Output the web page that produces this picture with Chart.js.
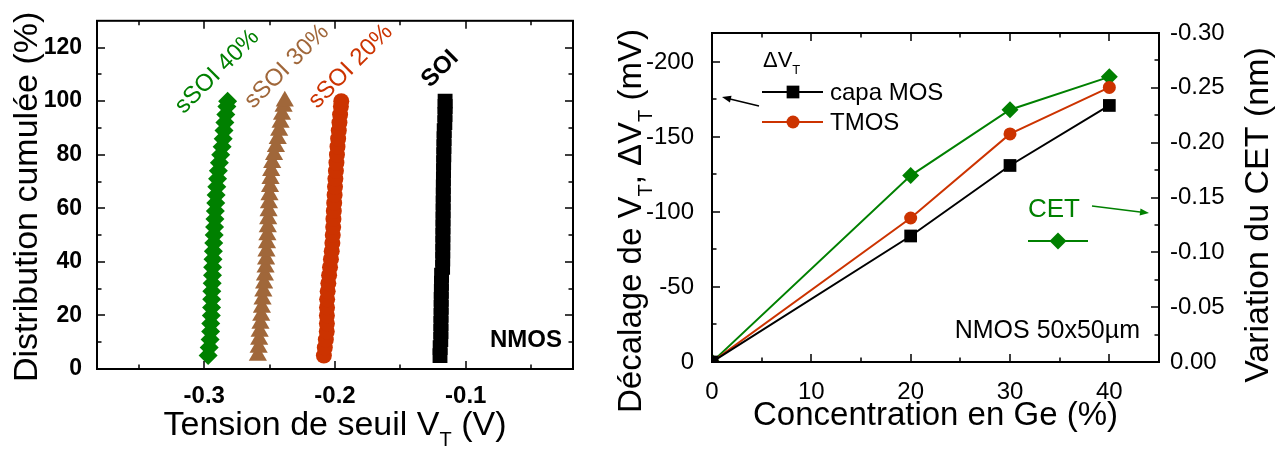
<!DOCTYPE html>
<html>
<head>
<meta charset="utf-8">
<script src="https://cdn.jsdelivr.net/npm/chart.js@4.4.0/dist/chart.umd.min.js"></script>
<style>
  html, body { margin: 0; padding: 0; background: #fff; }
  #wrap { position: relative; width: 1288px; height: 450px; }
  #left { position: absolute; left: 0; top: 0; width: 590px; height: 450px; }
  #right { position: absolute; left: 590px; top: 0; width: 698px; height: 450px; }
</style>
</head>
<body>
<div id="wrap">
  <div id="left"><canvas id="cdfChart"></canvas></div>
  <div id="right"><canvas id="shiftChart"></canvas></div>
</div>
<script>
// ---- left panel : cumulative distribution of VT ----
const cumul = [5, 8, 11, 14, 17, 20, 23, 26, 29, 32, 35, 38, 41, 44, 47, 50, 53,
               56, 59, 62, 65, 68, 71, 74, 77, 80, 83, 86, 89, 92, 95, 98, 100];

const vtSSOI40 = [-0.2970, -0.2962, -0.2955, -0.2951, -0.2950, -0.2946, -0.2944, -0.2943, -0.2942,
                  -0.2939, -0.2937, -0.2936, -0.2933, -0.2930, -0.2927, -0.2924, -0.2921, -0.2918,
                  -0.2915, -0.2912, -0.2909, -0.2904, -0.2898, -0.2892, -0.2884, -0.2874, -0.2863,
                  -0.2855, -0.2849, -0.2842, -0.2835, -0.2827, -0.2821];
const vtSSOI30 = [-0.2590, -0.2584, -0.2580, -0.2576, -0.2570, -0.2564, -0.2559, -0.2554, -0.2548,
                  -0.2542, -0.2536, -0.2531, -0.2527, -0.2524, -0.2520, -0.2517, -0.2514, -0.2511,
                  -0.2508, -0.2505, -0.2501, -0.2497, -0.2493, -0.2488, -0.2480, -0.2466, -0.2452,
                  -0.2438, -0.2427, -0.2416, -0.2405, -0.2393, -0.2384];
const vtSSOI20 = [-0.2085, -0.2078, -0.2070, -0.2063, -0.2062, -0.2062, -0.2061, -0.2060, -0.2056,
                  -0.2051, -0.2045, -0.2038, -0.2031, -0.2025, -0.2020, -0.2017, -0.2014, -0.2012,
                  -0.2009, -0.2006, -0.2003, -0.2000, -0.1997, -0.1993, -0.1989, -0.1985, -0.1981,
                  -0.1976, -0.1971, -0.1966, -0.1961, -0.1955, -0.1952];
const vtSOI = [-0.1197, -0.1196, -0.1191, -0.1190, -0.1190, -0.1189, -0.1188, -0.1188, -0.1187,
               -0.1186, -0.1185, -0.1177, -0.1176, -0.1176, -0.1175, -0.1175, -0.1174, -0.1174,
               -0.1173, -0.1173, -0.1172, -0.1172, -0.1171, -0.1170, -0.1169, -0.1168, -0.1167,
               -0.1166, -0.1165, -0.1160, -0.1159, -0.1158, -0.1158];

const leftXTicks = [-0.3, -0.2, -0.1];
const leftYTicks = [0, 20, 40, 60, 80, 100, 120];

// ---- right panel : VT shift and CET vs Ge content ----
const geConc = [0, 20, 30, 40];
const dvtCapaMOS = [0, -84, -131, -171];
const dvtTMOS = [0, -96, -152, -183];
const dCET = [0, -0.17, -0.23, -0.26];

const rightXTicks = [0, 10, 20, 30, 40];
const rightYTicks = [0, -50, -100, -150, -200];
const cetTicks = [0, -0.05, -0.10, -0.15, -0.20, -0.25, -0.30];

const FONT = '"Liberation Sans", Arial, sans-serif';
const GREEN = '#008000', RED = '#cc3300', BROWN = '#a0673a', BLACK = '#000000';

const pts = (xs, ys) => xs.map((x, i) => ({x: x, y: ys[i]}));

// text with subscripts, e.g. V_T
function drawRich(ctx, parts, x, y, angle, size, color, align) {
  ctx.save();
  ctx.translate(x, y);
  ctx.rotate(angle);
  ctx.fillStyle = color;
  ctx.textBaseline = 'alphabetic';
  ctx.textAlign = 'left';
  const sub = Math.round(size * 0.6);
  let total = 0;
  parts.forEach(p => {
    ctx.font = (p.sub ? sub : size) + 'px ' + FONT;
    p.w = ctx.measureText(p.t).width;
    total += p.w;
  });
  let cx = align === 'left' ? 0 : -total / 2;
  parts.forEach(p => {
    ctx.font = (p.sub ? sub : size) + 'px ' + FONT;
    ctx.fillText(p.t, cx, p.sub ? size * 0.33 : 0);
    cx += p.w;
  });
  ctx.restore();
}

function drawArrow(ctx, x1, y1, x2, y2, color) {
  const ang = Math.atan2(y2 - y1, x2 - x1);
  ctx.save();
  ctx.strokeStyle = color;
  ctx.fillStyle = color;
  ctx.lineWidth = 1.5;
  ctx.beginPath();
  ctx.moveTo(x1, y1);
  ctx.lineTo(x2 - 5 * Math.cos(ang), y2 - 5 * Math.sin(ang));
  ctx.stroke();
  ctx.beginPath();
  ctx.moveTo(x2, y2);
  ctx.lineTo(x2 - 9 * Math.cos(ang) + 3.5 * Math.sin(ang), y2 - 9 * Math.sin(ang) - 3.5 * Math.cos(ang));
  ctx.lineTo(x2 - 9 * Math.cos(ang) - 3.5 * Math.sin(ang), y2 - 9 * Math.sin(ang) + 3.5 * Math.cos(ang));
  ctx.closePath();
  ctx.fill();
  ctx.restore();
}

// minor ticks half way between the major ones
function minorsOf(scale) {
  const t = scale.ticks.map(k => k.value).sort((a, b) => a - b);
  const step = t[1] - t[0];
  const out = [t[0] - step / 2];
  t.forEach(v => out.push(v + step / 2));
  const lo = Math.min(scale.min, scale.max), hi = Math.max(scale.min, scale.max);
  return out.filter(v => v > lo + 1e-9 && v < hi - 1e-9);
}

// frame around the plot and inward tick marks
const frameTicks = {
  id: 'frameTicks',
  afterDatasetsDraw(chart, args, opts) {
    const {ctx, chartArea: a} = chart;
    ctx.save();
    ctx.strokeStyle = '#000';
    ctx.lineWidth = 1.5;
    opts.axes.forEach(ax => {
      const s = chart.scales[ax.id];
      const marks = s.ticks.map(k => [k.value, 8]).concat(minorsOf(s).map(v => [v, 4.5]));
      marks.forEach(([v, len]) => {
        const p = Math.round(s.getPixelForValue(v));
        ctx.beginPath();
        ax.edges.forEach(e => {
          if (e === 'bottom') { ctx.moveTo(p, a.bottom); ctx.lineTo(p, a.bottom - len); }
          if (e === 'top') { ctx.moveTo(p, a.top); ctx.lineTo(p, a.top + len); }
          if (e === 'left') { ctx.moveTo(a.left, p); ctx.lineTo(a.left + len, p); }
          if (e === 'right') { ctx.moveTo(a.right, p); ctx.lineTo(a.right - len, p); }
        });
        ctx.stroke();
      });
    });
    ctx.lineWidth = 2;
    ctx.strokeRect(a.left, a.top, a.right - a.left, a.bottom - a.top);
    ctx.restore();
  }
};

const setTicks = arr => (axis => { axis.ticks = arr.map(v => ({value: v})); });

// labels of the left panel
const leftNotes = {
  id: 'leftNotes',
  afterDraw(chart) {
    const {ctx, chartArea: a, scales} = chart;
    const tags = [
      {text: 'sSOI 40%', x: -0.2900, y: 111, color: GREEN, bold: false},
      {text: 'sSOI 30%', x: -0.2368, y: 113, color: BROWN, bold: false},
      {text: 'sSOI 20%', x: -0.1880, y: 113, color: RED, bold: false},
      {text: 'SOI', x: -0.1196, y: 112, color: BLACK, bold: true}
    ];
    ctx.save();
    tags.forEach(t => {
      ctx.save();
      ctx.translate(scales.x.getPixelForValue(t.x), scales.y.getPixelForValue(t.y));
      ctx.rotate(-45 * Math.PI / 180);
      ctx.font = (t.bold ? 'bold ' : '') + '24px ' + FONT;
      ctx.fillStyle = t.color;
      ctx.textAlign = 'center';
      ctx.textBaseline = 'middle';
      ctx.fillText(t.text, 0, 0);
      ctx.restore();
    });
    ctx.font = 'bold 24px ' + FONT;
    ctx.fillStyle = BLACK;
    ctx.textAlign = 'right';
    ctx.textBaseline = 'alphabetic';
    ctx.fillText('NMOS', a.right - 11, a.bottom - 22);
    ctx.restore();

    drawRich(ctx, [{t: 'Tension de seuil V'}, {t: 'T', sub: true}, {t: ' (V)'}],
             (a.left + a.right) / 2, a.bottom + 66, 0, 34, BLACK, 'center');
    drawRich(ctx, [{t: 'Distribution cumulée (%)'}], 37, (a.top + a.bottom) / 2 + 2,
             -Math.PI / 2, 34, BLACK, 'center');
  }
};

// legend, arrows and titles of the right panel
const rightNotes = {
  id: 'rightNotes',
  afterDraw(chart) {
    const {ctx, chartArea: a} = chart;
    const L = a.left, T = a.top;
    drawRich(ctx, [{t: 'ΔV'}, {t: 'T', sub: true}], L + 51, T + 34, 0, 22, BLACK, 'left');

    const rows = [
      {label: 'capa MOS', color: BLACK, style: 'rect', r: 9, y: T + 59},
      {label: 'TMOS', color: RED, style: 'circle', r: 6.5, y: T + 89}
    ];
    rows.forEach(row => {
      ctx.save();
      ctx.strokeStyle = row.color;
      ctx.lineWidth = 2;
      ctx.beginPath();
      ctx.moveTo(L + 50, row.y);
      ctx.lineTo(L + 111, row.y);
      ctx.stroke();
      ctx.fillStyle = row.color;
      Chart.helpers.drawPoint(ctx, {pointStyle: row.style, radius: row.r, rotation: 0, borderWidth: 0}, L + 81, row.y);
      ctx.font = '24px ' + FONT;
      ctx.fillStyle = BLACK;
      ctx.textAlign = 'left';
      ctx.textBaseline = 'middle';
      ctx.fillText(row.label, L + 118, row.y + 1);
      ctx.restore();
    });
    drawArrow(ctx, L + 47, T + 73, L + 10, T + 64, BLACK);

    ctx.save();
    ctx.font = '26px ' + FONT;
    ctx.fillStyle = GREEN;
    ctx.textAlign = 'left';
    ctx.textBaseline = 'alphabetic';
    ctx.fillText('CET', L + 316, T + 184);
    ctx.strokeStyle = GREEN;
    ctx.lineWidth = 2;
    ctx.beginPath();
    ctx.moveTo(L + 316, T + 208);
    ctx.lineTo(L + 376, T + 208);
    ctx.stroke();
    Chart.helpers.drawPoint(ctx, {pointStyle: 'rectRot', radius: 8.5, rotation: 0, borderWidth: 0}, L + 346, T + 208);
    ctx.restore();
    drawArrow(ctx, L + 380, T + 173, L + 437, T + 180, GREEN);

    ctx.save();
    ctx.font = '25px ' + FONT;
    ctx.fillStyle = BLACK;
    ctx.textAlign = 'right';
    ctx.textBaseline = 'alphabetic';
    ctx.fillText('NMOS 50x50µm', a.right - 19, a.bottom - 24);
    ctx.restore();

    drawRich(ctx, [{t: 'Concentration en Ge (%)'}], (a.left + a.right) / 2, a.bottom + 63, 0, 33, BLACK, 'center');
    drawRich(ctx, [{t: 'Décalage de V'}, {t: 'T', sub: true}, {t: ', ΔV'}, {t: 'T', sub: true}, {t: ' (mV)'}],
             51, T + 188, -Math.PI / 2, 33, BLACK, 'center');
    drawRich(ctx, [{t: 'Variation du CET (nm)'}], 678, T + 182, -Math.PI / 2, 34, BLACK, 'center');
  }
};

const noGrid = {display: false};
const noBorder = {display: false};

new Chart(document.getElementById('cdfChart'), {
  type: 'scatter',
  data: {
    datasets: [
      {label: 'sSOI 40%', data: pts(vtSSOI40, cumul), pointStyle: 'rectRot', pointRadius: 9.5,
       backgroundColor: GREEN, borderColor: GREEN, borderWidth: 0},
      {label: 'sSOI 30%', data: pts(vtSSOI30, cumul), pointStyle: 'triangle', pointRadius: 10.5,
       backgroundColor: BROWN, borderColor: BROWN, borderWidth: 0},
      {label: 'sSOI 20%', data: pts(vtSSOI20, cumul), pointStyle: 'circle', pointRadius: 8,
       backgroundColor: RED, borderColor: RED, borderWidth: 0},
      {label: 'SOI', data: pts(vtSOI, cumul), pointStyle: 'rect', pointRadius: 10.5,
       backgroundColor: BLACK, borderColor: BLACK, borderWidth: 0}
    ]
  },
  options: {
    responsive: true,
    maintainAspectRatio: false,
    animation: false,
    layout: {padding: {top: 19, right: 17, left: 0, bottom: 0}},
    plugins: {
      legend: {display: false},
      tooltip: {enabled: false},
      frameTicks: {axes: [{id: 'x', edges: ['bottom', 'top']}, {id: 'y', edges: ['left', 'right']}]}
    },
    scales: {
      x: {
        type: 'linear', min: -0.382, max: -0.018,
        afterBuildTicks: setTicks(leftXTicks),
        afterFit: s => { s.height = 81; },
        grid: noGrid, border: noBorder,
        ticks: {font: {family: FONT, size: 24, weight: 'bold'}, color: BLACK, padding: 5,
                autoSkip: false, maxRotation: 0, callback: v => v.toFixed(1)}
      },
      y: {
        type: 'linear', min: 0, max: 130,
        afterBuildTicks: setTicks(leftYTicks),
        afterFit: s => { s.width = 97; },
        grid: noGrid, border: noBorder,
        ticks: {font: {family: FONT, size: 23, weight: 'bold'}, color: BLACK, padding: 7,
                autoSkip: false, callback: v => String(v)}
      }
    }
  },
  plugins: [frameTicks, leftNotes]
});

new Chart(document.getElementById('shiftChart'), {
  type: 'scatter',
  data: {
    datasets: [
      {label: 'capa MOS', data: pts(geConc, dvtCapaMOS), yAxisID: 'y', showLine: true,
       borderColor: BLACK, backgroundColor: BLACK, borderWidth: 2,
       pointStyle: 'rect', pointRadius: 9, pointBorderWidth: 0},
      {label: 'TMOS', data: pts(geConc, dvtTMOS), yAxisID: 'y', showLine: true,
       borderColor: RED, backgroundColor: RED, borderWidth: 2,
       pointStyle: 'circle', pointRadius: 6.5, pointBorderWidth: 0},
      {label: 'CET', data: pts(geConc, dCET), yAxisID: 'y2', showLine: true,
       borderColor: GREEN, backgroundColor: GREEN, borderWidth: 2,
       pointStyle: 'rectRot', pointRadius: 8.5, pointBorderWidth: 0}
    ]
  },
  options: {
    responsive: true,
    maintainAspectRatio: false,
    animation: false,
    layout: {padding: {top: 33, right: 0, left: 0, bottom: 0}},
    plugins: {
      legend: {display: false},
      tooltip: {enabled: false},
      frameTicks: {axes: [{id: 'x', edges: ['bottom', 'top']}, {id: 'y', edges: ['left']}, {id: 'y2', edges: ['right']}]}
    },
    scales: {
      x: {
        type: 'linear', min: 0, max: 45,
        afterBuildTicks: setTicks(rightXTicks),
        afterFit: s => { s.height = 88; },
        grid: noGrid, border: noBorder,
        ticks: {font: {family: FONT, size: 24}, color: BLACK, padding: 8, autoSkip: false, maxRotation: 0}
      },
      y: {
        type: 'linear', position: 'left', min: -219.3, max: 0, reverse: true,
        afterBuildTicks: setTicks(rightYTicks),
        afterFit: s => { s.width = 122; },
        grid: noGrid, border: noBorder,
        ticks: {font: {family: FONT, size: 24}, color: BLACK, padding: 10, autoSkip: false}
      },
      y2: {
        type: 'linear', position: 'right', min: -0.30, max: 0, reverse: true,
        afterBuildTicks: setTicks(cetTicks),
        afterFit: s => { s.width = 129; },
        grid: noGrid, border: noBorder,
        ticks: {font: {family: FONT, size: 24}, color: BLACK, padding: 3, autoSkip: false,
                callback: v => v.toFixed(2)}
      }
    }
  },
  plugins: [frameTicks, rightNotes]
});
</script>
</body>
</html>
